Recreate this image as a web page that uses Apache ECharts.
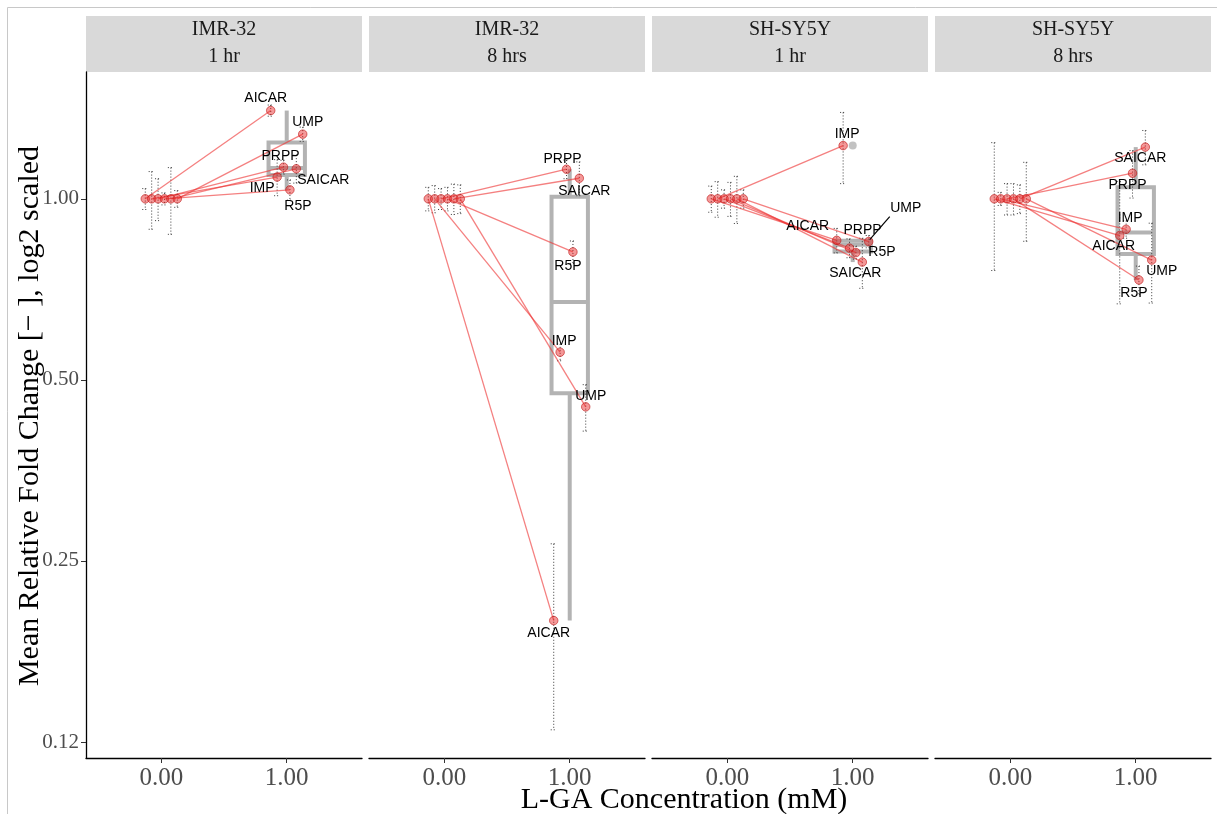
<!DOCTYPE html>
<html>
<head>
<meta charset="utf-8">
<script src="https://cdn.jsdelivr.net/npm/echarts@6/dist/echarts.min.js"></script>
<style>
  html, body { margin: 0; padding: 0; background: #fff; }
  #chart { width: 1217px; height: 814px; }
</style>
</head>
<body>
<div id="chart"></div>
<script>
// ---- data -------------------------------------------------------------
const metabolites = ['AICAR', 'IMP', 'PRPP', 'R5P', 'SAICAR', 'UMP'];
const cellLines = ['IMR-32', 'IMR-32', 'SH-SY5Y', 'SH-SY5Y'];
const timepoints = ['1 hr', '8 hrs', '1 hr', '8 hrs'];
const doses = [0, 1]; // L-GA, mM

// mean relative fold change at 0 mM (normalised controls), one row per panel
const controlMean = [
  [1, 1, 1, 1, 1, 1],
  [1, 1, 1, 1, 1, 1],
  [1, 1, 1, 1, 1, 1],
  [1, 1, 1, 1, 1, 1]
];
const controlErr = [
  [0.040, 0.110, 0.080, 0.023, 0.127, 0.032],
  [0.045, 0.052, 0.040, 0.045, 0.058, 0.055],
  [0.050, 0.068, 0.035, 0.065, 0.090, 0.035],
  [0.240, 0.025, 0.060, 0.060, 0.055, 0.150]
];
// mean relative fold change at 1 mM
const treatedMean = [
  [1.402, 1.087, 1.129, 1.035, 1.122, 1.281],
  [0.199, 0.556, 1.120, 0.816, 1.082, 0.451],
  [0.853, 1.226, 0.828, 0.814, 0.785, 0.849],
  [0.869, 0.890, 1.103, 0.733, 1.219, 0.791]
];
const treatedErr = [
  [0.030, 0.075, 0.030, 0.040, 0.060, 0.035],
  [0.068, 0.018, 0.040, 0.035, 0.070, 0.040],
  [0.040, 0.166, 0.030, 0.020, 0.075, 0.020],
  [0.200, 0.030, 0.100, 0.040, 0.080, 0.120]
];

const xTickValues = [0, 1];
const xTickLabels = ['0.00', '1.00'];
const yTickValues = [0.125, 0.25, 0.5, 1];
const yTickLabels = ['0.12', '0.25', '0.50', '1.00'];

// ---- layout & style ---------------------------------------------------
const SERIF = '"Liberation Serif", "DejaVu Serif", serif';
const SANS = '"Liberation Sans", Arial, sans-serif';
const GRID_LEFT = [86, 369, 652, 935];
const GRID_W = 276;
const GRID_TOP = 72;
const GRID_H = 686;
const X_MIN = -0.6, X_MAX = 1.6;
const Y_MIN = 0.1176, Y_MAX = 1.625;
const DODGE = 0.051;      // horizontal spread of the six metabolites
const BOX_HALF = 0.145;   // half box width in x units
const BOX_COLOR = '#b3b3b3';
const RED_LINE = 'rgba(238,50,50,0.62)';
const RED_FILL = 'rgba(232,40,40,0.6)';
const RED_EDGE = 'rgba(190,20,20,0.75)';

// pixel nudges for the metabolite labels (repelled text), per panel
const labelNudge = [
  [[-5, -12], [-15, 11], [-3, -11], [8, 16], [27, 11], [5, -12]],
  [[-5, 13], [4, -11], [-4, -10], [-5, 14], [5, 13], [5, -11]],
  [[-29, -14], [4, -11], [13, -18], [26, 0], [-7, 11], [37, -33, true]],
  [[-6, 11], [4, -11], [-5, 12], [-5, 13], [-5, 11], [10, 11]]
];

function dodgeX(dose, i) {
  return dose + (i - (metabolites.length - 1) / 2) * DODGE;
}

function quantile(sorted, q) {
  const pos = (sorted.length - 1) * q;
  const lo = Math.floor(pos), hi = Math.ceil(pos);
  return sorted[lo] + (sorted[hi] - sorted[lo]) * (pos - lo);
}

// Tukey box statistics on the log2 scale
function boxStats(values) {
  const logs = values.map(Math.log2).sort((a, b) => a - b);
  const q1 = quantile(logs, 0.25), med = quantile(logs, 0.5), q3 = quantile(logs, 0.75);
  const iqr = q3 - q1;
  const inside = logs.filter(v => v >= q1 - 1.5 * iqr && v <= q3 + 1.5 * iqr);
  const out = logs.filter(v => v < q1 - 1.5 * iqr || v > q3 + 1.5 * iqr);
  return {
    lo: Math.pow(2, inside[0]), q1: Math.pow(2, q1), med: Math.pow(2, med),
    q3: Math.pow(2, q3), hi: Math.pow(2, inside[inside.length - 1]),
    out: out.map(v => Math.pow(2, v))
  };
}

const grids = [], xAxes = [], yAxes = [], series = [], graphics = [];

// outer frame line
graphics.push({
  type: 'rect', silent: true, z: -1,
  shape: { x: 7.5, y: 7.5, width: 1230, height: 830 },
  style: { fill: 'transparent', stroke: '#c8c8c8', lineWidth: 1 }
});

for (let p = 0; p < 4; p++) {
  grids.push({ left: GRID_LEFT[p], top: GRID_TOP, width: GRID_W, height: GRID_H, containLabel: false });

  xAxes.push({
    type: 'value', gridIndex: p, min: X_MIN, max: X_MAX,
    axisLine: { show: true, onZero: false, lineStyle: { color: '#000', width: 1.3 } },
    axisTick: { show: true, length: 5, customValues: xTickValues, lineStyle: { color: '#333', width: 1 } },
    axisLabel: {
      customValues: xTickValues,
      formatter: v => xTickLabels[xTickValues.indexOf(v)],
      fontFamily: SERIF, fontSize: 25, color: '#4d4d4d', margin: 8
    },
    splitLine: { show: false }
  });

  yAxes.push({
    type: 'log', logBase: 2, gridIndex: p, min: Y_MIN, max: Y_MAX,
    show: p === 0,
    axisLine: { show: true, onZero: false, lineStyle: { color: '#000', width: 1.3 } },
    axisTick: { show: true, length: 5, customValues: yTickValues, lineStyle: { color: '#333', width: 1 } },
    axisLabel: {
      customValues: yTickValues,
      formatter: v => yTickLabels[yTickValues.indexOf(v)],
      fontFamily: SERIF, fontSize: 21, color: '#4d4d4d', margin: 7
    },
    splitLine: { show: false }
  });

  // facet strip
  graphics.push({
    type: 'rect', silent: true,
    shape: { x: GRID_LEFT[p], y: 16, width: GRID_W, height: 56 },
    style: { fill: '#d9d9d9' }
  });
  graphics.push({
    type: 'text', silent: true, x: GRID_LEFT[p] + GRID_W / 2, y: 30,
    style: { text: cellLines[p], font: '20px ' + SERIF, fill: '#1a1a1a', textAlign: 'center', textVerticalAlign: 'middle' }
  });
  graphics.push({
    type: 'text', silent: true, x: GRID_LEFT[p] + GRID_W / 2, y: 57,
    style: { text: timepoints[p], font: '20px ' + SERIF, fill: '#1a1a1a', textAlign: 'center', textVerticalAlign: 'middle' }
  });

  const stats = boxStats(treatedMean[p]);

  // boxplot of the treated means
  series.push({
    type: 'custom', xAxisIndex: p, yAxisIndex: p, z: 1, silent: true,
    data: [[doses[1], stats.lo, stats.q1, stats.med, stats.q3, stats.hi]],
    renderItem: (params, api) => {
      const x = api.value(0);
      const xl = api.coord([x - BOX_HALF, api.value(3)])[0];
      const xr = api.coord([x + BOX_HALF, api.value(3)])[0];
      const cx = api.coord([x, api.value(3)])[0];
      const ylo = api.coord([x, api.value(1)])[1];
      const yq1 = api.coord([x, api.value(2)])[1];
      const ymed = api.coord([x, api.value(3)])[1];
      const yq3 = api.coord([x, api.value(4)])[1];
      const yhi = api.coord([x, api.value(5)])[1];
      const st = { stroke: BOX_COLOR, lineWidth: 4, fill: 'transparent' };
      return {
        type: 'group', children: [
          { type: 'line', shape: { x1: cx, y1: yq3, x2: cx, y2: yhi }, style: st },
          { type: 'line', shape: { x1: cx, y1: yq1, x2: cx, y2: ylo }, style: st },
          { type: 'rect', shape: { x: xl, y: yq3, width: xr - xl, height: yq1 - yq3 }, style: st },
          { type: 'line', shape: { x1: xl, y1: ymed, x2: xr, y2: ymed }, style: st }
        ]
      };
    }
  });

  // box outliers
  series.push({
    type: 'scatter', xAxisIndex: p, yAxisIndex: p, z: 1, silent: true,
    symbolSize: 8,
    itemStyle: { color: BOX_COLOR },
    data: stats.out.map(v => [doses[1], v])
  });

  // error bars (mean ± error), dotted
  const errData = [];
  metabolites.forEach((m, i) => {
    errData.push([dodgeX(doses[0], i), controlMean[p][i], controlErr[p][i]]);
    errData.push([dodgeX(doses[1], i), treatedMean[p][i], treatedErr[p][i]]);
  });
  series.push({
    type: 'custom', xAxisIndex: p, yAxisIndex: p, z: 2, silent: true,
    data: errData,
    renderItem: (params, api) => {
      const x = api.value(0), m = api.value(1), e = api.value(2);
      const top = api.coord([x, m + e]);
      const bot = api.coord([x, m - e]);
      const st = { stroke: '#3a3a3a', lineWidth: 1, lineDash: [1, 2] };
      return {
        type: 'group', children: [
          { type: 'line', shape: { x1: top[0], y1: top[1], x2: bot[0], y2: bot[1] }, style: st },
          { type: 'line', shape: { x1: top[0] - 3, y1: top[1], x2: top[0] + 3, y2: top[1] }, style: st },
          { type: 'line', shape: { x1: bot[0] - 3, y1: bot[1], x2: bot[0] + 3, y2: bot[1] }, style: st }
        ]
      };
    }
  });

  // connecting lines from control to treated
  series.push({
    type: 'custom', xAxisIndex: p, yAxisIndex: p, z: 3, silent: true,
    data: metabolites.map((m, i) => [dodgeX(doses[0], i), controlMean[p][i], dodgeX(doses[1], i), treatedMean[p][i]]),
    renderItem: (params, api) => {
      const a = api.coord([api.value(0), api.value(1)]);
      const b = api.coord([api.value(2), api.value(3)]);
      return {
        type: 'line', shape: { x1: a[0], y1: a[1], x2: b[0], y2: b[1] },
        style: { stroke: RED_LINE, lineWidth: 1.3 }
      };
    }
  });

  // points
  const pts = [];
  metabolites.forEach((m, i) => {
    pts.push({ name: m, value: [dodgeX(doses[0], i), controlMean[p][i]] });
    pts.push({ name: m, value: [dodgeX(doses[1], i), treatedMean[p][i]] });
  });
  series.push({
    type: 'scatter', xAxisIndex: p, yAxisIndex: p, z: 4, silent: true,
    symbolSize: 8.5,
    itemStyle: { color: RED_FILL, borderColor: RED_EDGE, borderWidth: 1 },
    data: pts
  });

  // metabolite labels at the treated points
  const panel = p;
  series.push({
    type: 'custom', xAxisIndex: p, yAxisIndex: p, z: 5, silent: true,
    data: metabolites.map((m, i) => [dodgeX(doses[1], i), treatedMean[p][i], i]),
    renderItem: (params, api) => {
      const i = api.value(2);
      const pt = api.coord([api.value(0), api.value(1)]);
      const nudge = labelNudge[panel][i];
      const lx = pt[0] + nudge[0], ly = pt[1] + nudge[1];
      const children = [{
        type: 'text', x: lx, y: ly,
        style: {
          text: metabolites[i], font: '14px ' + SANS, fill: '#000',
          textAlign: 'center', textVerticalAlign: 'middle', align: 'center', verticalAlign: 'middle'
        }
      }];
      if (nudge[2]) {
        children.push({
          type: 'line',
          shape: { x1: pt[0] + 1, y1: pt[1] - 2, x2: lx - 16, y2: ly + 8 },
          style: { stroke: '#000', lineWidth: 1.2 }
        });
      }
      return { type: 'group', children };
    }
  });
}

// axis titles
graphics.push({
  type: 'text', silent: true, x: 30, y: 416, rotation: Math.PI / 2,
  style: {
    text: 'Mean Relative Fold Change [− ], log2 scaled', font: '30px ' + SERIF, fill: '#000',
    textAlign: 'center', textVerticalAlign: 'middle'
  }
});
graphics.push({
  type: 'text', silent: true, x: 684, y: 800,
  style: {
    text: 'L-GA Concentration (mM)', font: '30px ' + SERIF, fill: '#000',
    textAlign: 'center', textVerticalAlign: 'middle'
  }
});

const chart = echarts.init(document.getElementById('chart'), null, { renderer: 'canvas' });
chart.setOption({
  animation: false,
  backgroundColor: '#fff',
  grid: grids,
  xAxis: xAxes,
  yAxis: yAxes,
  series: series,
  graphic: graphics
});
</script>
</body>
</html>
